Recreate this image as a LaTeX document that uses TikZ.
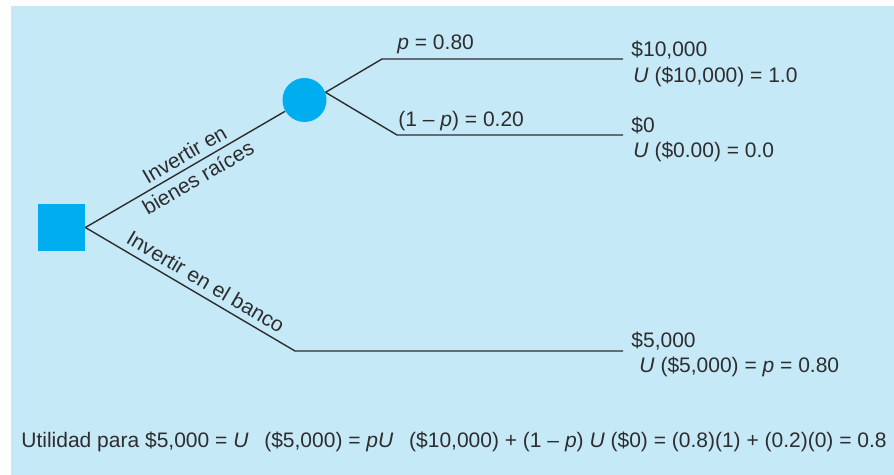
\documentclass[tikz,border=0pt]{standalone}
\usepackage{fontspec}
\setmainfont{Liberation Sans}
\usetikzlibrary{positioning, calc}
\definecolor{bgblue}{RGB}{198,233,248}
\definecolor{nodecyan}{RGB}{0,174,239}
\definecolor{linegray}{RGB}{45,45,45}

\begin{document}
\begin{tikzpicture}[
        x=0.5pt, y=-0.5pt,
        every node/.style={font=\fontsize{10.5}{13.5}\selectfont, text=linegray},
        decbox/.style={rectangle, fill=nodecyan, minimum size=23.5pt, inner sep=0pt},
        chancenode/.style={circle, fill=nodecyan, minimum size=22pt, inner sep=0pt},
        branch/.style={draw=linegray, line width=0.7pt},
        lbl/.style={anchor=base west, inner sep=0pt},
    ]

    % ===== Background =====
    \useasboundingbox (0,0) rectangle (894,475);
    \fill[bgblue] (11,6) rectangle (894,475);

    % ===== Decision and chance nodes =====
    \node[decbox] (dec) at (61.5,227.5) {};
    \node[chancenode] (chance) at (304.5,100) {};

    \coordinate (k1) at (382,59);
    \coordinate (e1) at (623,59);
    \coordinate (k2) at (397,135);
    \coordinate (e2) at (623,135);
    \coordinate (k3) at (295,351);
    \coordinate (e3) at (623,351);

    % ===== Branches =====
    \draw[branch] (dec.east) -- node[sloped, pos=0.53, align=center, inner sep=1pt]
        {Invertir en\\bienes raíces} (chance);
    \draw[branch] (chance.20) -- (k1) -- (e1);
    \draw[branch] (chance.20) -- (k2) -- (e2);
    \draw[branch] (dec.east) -- node[sloped, above, pos=0.54, inner sep=3pt]
        {Invertir en el banco} (k3) -- (e3);

    % ===== Probabilities =====
    \node[lbl] (P1) at (397,50) {\textit{p} = 0.80};
    \node[lbl] (P2) at (398,127) {(1 – \textit{p}) = 0.20};

    % ===== Payoffs =====
    \node[lbl] (R1) at (631,57) {\$10,000};
    \node[lbl] (U1) at (633,83) {\textit{U} (\$10,000) = 1.0};
    \node[lbl] (R2) at (631,133) {\$0};
    \node[lbl] (U2) at (633,158) {\textit{U} (\$0.00) = 0.0};
    \node[lbl] (R3) at (631,348) {\$5,000};
    \node[lbl] (U3) at (639,373) {\textit{U} (\$5,000) = \textit{p} = 0.80};

    % ===== Utility equation =====
    \node[lbl] (EQ) at (21,448)
        {Utilidad para \$5,000 = \textit{U}\hspace{0.75em}(\$5,000) = \textit{pU}\hspace{0.75em}(\$10,000) + (1 – \textit{p}) \textit{U} (\$0) = (0.8)(1) + (0.2)(0) = 0.8};

\end{tikzpicture}
\end{document}
